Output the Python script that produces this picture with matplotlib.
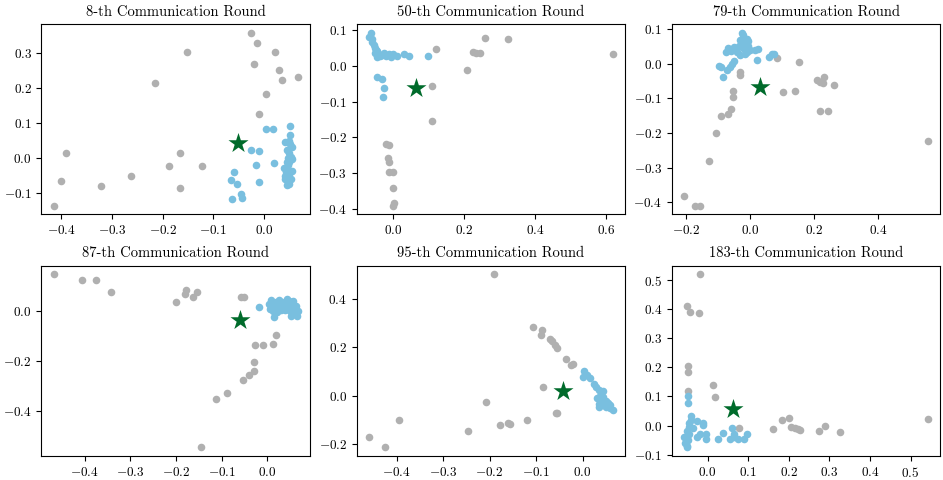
import numpy as np
import matplotlib
matplotlib.use('Agg')
import matplotlib.pyplot as plt
from matplotlib.ticker import MultipleLocator

plt.rcParams['font.family'] = 'serif'
plt.rcParams['font.serif'] = ['cmr10', 'DejaVu Serif']
plt.rcParams['mathtext.fontset'] = 'cm'
plt.rcParams['axes.formatter.use_mathtext'] = True

rounds = [8, 50, 79, 87, 95, 183]

# round 8
gray_8 = [(-0.415, -0.135), (-0.40, -0.065), (-0.39, 0.015), (-0.322, -0.08), (-0.262, -0.05),
          (-0.215, 0.215), (-0.188, -0.023), (-0.165, 0.015), (-0.165, -0.085), (-0.153, 0.302),
          (-0.122, -0.023), (-0.026, 0.358), (-0.014, 0.328), (-0.02, 0.27), (0.022, 0.303),
          (0.03, 0.252), (0.035, 0.224), (0.066, 0.231), (0.003, 0.182), (-0.01, 0.125)]
blue_8 = [(0.003, 0.084), (0.018, 0.084), (0.051, 0.092), (0.052, 0.065), (-0.025, 0.025),
          (-0.01, 0.022), (0.02, -0.013), (-0.015, -0.02), (-0.06, -0.038), (-0.066, -0.062),
          (-0.054, -0.072), (-0.01, -0.068), (-0.064, -0.115), (-0.046, -0.102), (-0.043, -0.112),
          (0.042, 0.045), (0.05, 0.05), (0.055, 0.033), (0.045, 0.025), (0.05, 0.015),
          (0.053, 0.005), (0.047, 0.0), (0.055, -0.003), (0.05, -0.012), (0.045, -0.01),
          (0.048, -0.02), (0.04, -0.027), (0.045, -0.033), (0.055, -0.037), (0.05, -0.045),
          (0.042, -0.05), (0.048, -0.055), (0.053, -0.058), (0.042, -0.06), (0.047, -0.068),
          (0.045, -0.075), (0.05, -0.072), (0.043, -0.04), (0.052, 0.04)]
star_8 = (-0.051, 0.043)

# round 50
gray_50 = [(0.12, 0.046), (0.26, 0.077), (0.325, 0.075), (0.225, 0.038), (0.235, 0.035),
           (0.245, 0.035), (0.62, 0.033), (0.21, -0.013), (0.11, -0.057), (0.11, -0.153),
           (-0.02, -0.218), (-0.01, -0.22), (-0.013, -0.258), (-0.01, -0.268), (-0.01, -0.295),
           (0.0, -0.295), (0.0, -0.34), (0.003, -0.383), (0.0, -0.39)]
blue_50 = [(-0.063, 0.092), (-0.068, 0.08), (-0.06, 0.075), (-0.058, 0.065), (-0.055, 0.058),
           (-0.052, 0.05), (-0.048, 0.045), (-0.045, 0.04), (-0.05, 0.035), (-0.042, 0.03),
           (-0.045, 0.025), (-0.038, 0.028), (-0.03, 0.03), (-0.02, 0.028), (-0.01, 0.033),
           (-0.005, 0.025), (0.0, 0.032), (0.012, 0.027), (0.03, 0.033), (0.045, 0.028),
           (0.1, 0.027), (-0.035, 0.03), (-0.025, 0.035), (-0.045, -0.032), (-0.03, -0.038),
           (-0.025, -0.062), (-0.028, -0.087)]
star_50 = (0.065, -0.063)

# round 79
gray_79 = [(-0.205, -0.382), (-0.17, -0.41), (-0.155, -0.41), (-0.128, -0.282), (-0.107, -0.2),
           (-0.09, -0.15), (-0.068, -0.145), (-0.06, -0.132), (-0.053, -0.08), (-0.053, -0.097),
           (-0.03, -0.025), (-0.03, -0.032), (0.085, 0.018), (0.152, 0.006), (0.103, -0.082),
           (0.142, -0.08), (0.208, -0.047), (0.22, -0.052), (0.228, -0.055), (0.232, -0.037),
           (0.262, -0.062), (0.22, -0.137), (0.242, -0.137), (0.555, -0.222)]
blue_79 = [(-0.095, -0.005), (-0.09, -0.01), (-0.085, -0.038), (-0.07, -0.018), (-0.062, -0.01),
           (-0.055, 0.0), (-0.05, 0.008), (-0.075, 0.033), (-0.068, 0.045), (-0.06, 0.038),
           (-0.05, 0.048), (-0.04, 0.035), (-0.035, 0.05), (-0.03, 0.07), (-0.025, 0.09),
           (-0.02, 0.082), (-0.015, 0.06), (-0.01, 0.072), (-0.005, 0.065), (-0.02, 0.045),
           (-0.03, 0.025), (-0.01, 0.035), (0.0, 0.04), (0.015, 0.04), (0.025, 0.043),
           (0.022, 0.01), (0.06, 0.02), (0.07, 0.027), (0.075, 0.028), (-0.005, 0.05),
           (-0.015, 0.028)]
star_79 = (0.03, -0.067)

# round 87
gray_87 = [(-0.468, 0.148), (-0.407, 0.125), (-0.376, 0.127), (-0.342, 0.077), (-0.2, 0.038),
           (-0.178, 0.085), (-0.18, 0.07), (-0.163, 0.055), (-0.155, 0.077), (-0.058, 0.055),
           (-0.052, 0.055), (0.018, -0.097), (0.013, -0.132), (-0.028, -0.137), (-0.01, -0.137),
           (-0.03, -0.205), (-0.03, -0.24), (-0.04, -0.255), (-0.053, -0.278), (-0.088, -0.33),
           (-0.113, -0.355), (-0.145, -0.548)]
blue_87 = [(-0.018, 0.018), (0.003, 0.03), (0.008, 0.045), (0.01, 0.02), (0.013, 0.0),
           (0.015, -0.025), (0.018, 0.035), (0.022, 0.01), (0.025, 0.045), (0.028, 0.025),
           (0.03, 0.005), (0.033, 0.038), (0.036, 0.015), (0.04, 0.03), (0.043, 0.048),
           (0.046, 0.02), (0.048, 0.04), (0.05, 0.0), (0.052, -0.02), (0.055, 0.03),
           (0.058, 0.01), (0.06, -0.01), (0.062, 0.022), (0.064, -0.02), (0.066, 0.0),
           (0.006, 0.01), (0.02, -0.005), (0.038, 0.005), (0.056, 0.042)]
star_87 = (-0.059, -0.035)

# round 95
gray_95 = [(-0.46, -0.17), (-0.425, -0.213), (-0.395, -0.1), (-0.247, -0.147), (-0.207, -0.025),
           (-0.177, -0.12), (-0.16, -0.113), (-0.157, -0.115), (-0.12, -0.1), (-0.19, 0.5),
           (-0.107, 0.284), (-0.088, 0.27), (-0.09, 0.25), (-0.07, 0.235), (-0.065, 0.225),
           (-0.06, 0.21), (-0.055, 0.198), (-0.035, 0.15), (-0.025, 0.125), (-0.02, 0.13),
           (-0.085, 0.037), (-0.058, -0.072), (-0.055, -0.072)]
blue_95 = [(0.003, 0.1), (0.0, 0.075), (0.01, 0.085), (0.015, 0.072), (0.025, 0.048),
           (0.028, 0.035), (0.035, 0.022), (0.04, 0.015), (0.03, -0.008), (0.045, -0.005),
           (0.05, -0.02), (0.055, -0.03), (0.04, -0.03), (0.045, -0.04), (0.06, -0.05),
           (0.065, -0.058), (0.05, -0.045), (0.035, -0.035), (0.038, 0.0), (0.043, 0.02),
           (0.058, -0.038), (0.035, -0.045)]
star_95 = (-0.043, 0.02)

# round 183
gray_183 = [(-0.018, 0.52), (-0.05, 0.41), (-0.043, 0.39), (-0.022, 0.388), (-0.048, 0.205),
            (-0.048, 0.183), (-0.048, 0.12), (0.013, 0.138), (0.018, 0.097), (0.078, -0.007),
            (0.16, -0.012), (0.183, 0.02), (0.2, 0.026), (0.205, -0.005), (0.215, -0.008),
            (0.222, -0.012), (0.228, -0.015), (0.275, -0.02), (0.29, -0.003), (0.325, -0.022),
            (0.543, 0.021)]
blue_183 = [(-0.048, 0.1), (-0.048, 0.078), (-0.04, 0.033), (-0.042, 0.02), (-0.045, 0.01),
            (-0.045, -0.005), (-0.05, -0.02), (-0.052, -0.04), (-0.055, -0.06), (-0.05, -0.07),
            (-0.058, -0.038), (-0.048, -0.05), (-0.045, -0.03), (-0.035, -0.01), (-0.025, 0.015),
            (-0.012, 0.008), (-0.012, 0.003), (-0.025, -0.04), (-0.018, -0.03), (-0.005, -0.03),
            (-0.003, -0.045), (0.025, -0.048), (0.038, -0.025), (0.06, -0.008), (0.055, -0.045),
            (0.065, -0.03), (0.075, -0.045), (0.09, -0.045), (0.098, -0.03), (0.065, -0.04),
            (-0.052, -0.075)]
star_183 = (0.062, 0.058)

grays = [gray_8, gray_50, gray_79, gray_87, gray_95, gray_183]
blues = [blue_8, blue_50, blue_79, blue_87, blue_95, blue_183]
stars = [star_8, star_50, star_79, star_87, star_95, star_183]

fig, axes = plt.subplots(2, 3, figsize=(9.43, 4.8), dpi=100)
plt.subplots_adjust(left=0.044, right=0.997, top=0.95, bottom=0.05, wspace=0.175, hspace=0.27)

for ax, r, g, b, s in zip(axes.flat, rounds, grays, blues, stars):
    g = np.array(g)
    b = np.array(b)
    ax.scatter(g[:, 0], g[:, 1], s=30, color='#b0b0b0', linewidths=0)
    ax.scatter(b[:, 0], b[:, 1], s=30, color='#79bfdf', linewidths=0)
    ax.scatter(s[0], s[1], s=230, marker='*', color='#006b2b', linewidths=0, zorder=3)
    ax.set_title('%d-th Communication Round' % r, fontsize=10.5)
    ax.tick_params(labelsize=9.5)

axes[1, 2].xaxis.set_major_locator(MultipleLocator(0.1))

plt.savefig('out.png')
